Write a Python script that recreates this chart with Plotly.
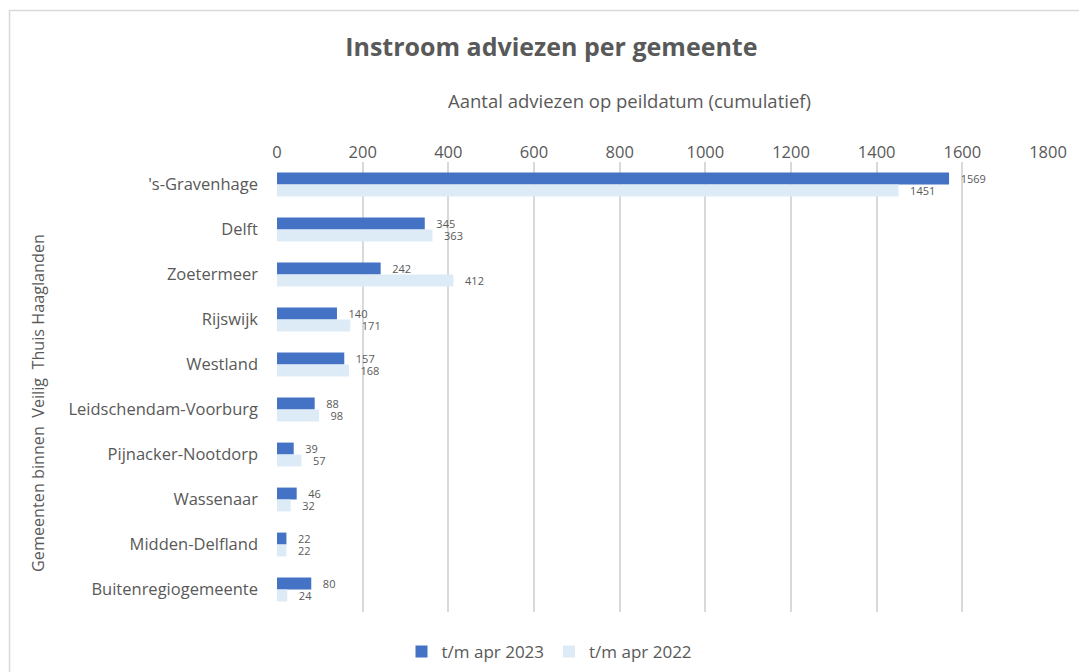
import plotly.graph_objects as go

categories = ["'s-Gravenhage", "Delft", "Zoetermeer", "Rijswijk", "Westland",
              "Leidschendam-Voorburg", "Pijnacker-Nootdorp", "Wassenaar",
              "Midden-Delfland", "Buitenregiogemeente"]
apr2023 = [1569, 345, 242, 140, 157, 88, 39, 46, 22, 80]
apr2022 = [1451, 363, 412, 171, 168, 98, 57, 32, 22, 24]
x_ticks = [0, 200, 400, 600, 800, 1000, 1200, 1400, 1600, 1800]

FONT = "Open Sans"
GREY = "#595959"
PAD = "\u00a0\u00a0\u00a0"

fig = go.Figure()
fig.add_trace(go.Bar(y=categories, x=apr2023, orientation="h", name="t/m apr 2023",
                     marker=dict(color="#4472C4", line=dict(width=0)),
                     texttemplate=PAD + "%{x}", textposition="outside", cliponaxis=False,
                     constraintext="none",
                     textfont=dict(size=11, color=GREY, family=FONT)))
fig.add_trace(go.Bar(y=categories, x=apr2022, orientation="h", name="t/m apr 2022",
                     marker=dict(color="#DDEBF7", line=dict(width=0)),
                     texttemplate=PAD + "%{x}", textposition="outside", cliponaxis=False,
                     constraintext="none",
                     textfont=dict(size=11, color=GREY, family=FONT)))

fig.update_layout(
    width=1079, height=672,
    paper_bgcolor="white", plot_bgcolor="white",
    margin=dict(l=277, r=28, t=162, b=60),
    barmode="group", bargap=0.47, bargroupgap=0,
    font=dict(family=FONT, color=GREY),
    title=dict(text="<b>Instroom adviezen per gemeente</b>", x=0.511, xanchor="center",
               y=1 - 47 / 672, yanchor="middle",
               font=dict(size=25, color="#595959", family=FONT)),
    xaxis=dict(side="top", range=[0, 1800], tickvals=x_ticks, showgrid=True,
               gridcolor="#D9D9D9", gridwidth=2, zeroline=False,
               tickfont=dict(size=16.5, color=GREY), showline=False, ticks=""),
    yaxis=dict(autorange="reversed", tickfont=dict(size=16.5, color=GREY),
               showgrid=False, zeroline=False, showline=False, ticks="",
               ticklabelstandoff=18),
    legend=dict(orientation="h", x=0.5 + 10 / 1079, xanchor="center", xref="container",
                y=20 / 672, yanchor="middle", yref="container",
                font=dict(size=17, color=GREY), traceorder="normal"),
    showlegend=True,
)

fig.add_annotation(text="Aantal adviezen op peildatum (cumulatief)", xref="paper", yref="paper",
                   x=(631 - 277) / 774, y=(672 - 100 - 60) / 450, xanchor="center",
                   yanchor="middle", showarrow=False, font=dict(size=18.5, color=GREY))
fig.add_annotation(text="Gemeenten binnen  Veilig  Thuis Haaglanden", xref="paper", yref="paper",
                   x=(37 - 277) / 774, y=(672 - 403 - 60) / 450, xanchor="center",
                   yanchor="middle", textangle=-90, showarrow=False,
                   font=dict(size=16.2, color=GREY))
fig.add_shape(type="rect", xref="paper", yref="paper",
              x0=(8.5 - 277) / 774, x1=(1090 - 277) / 774,
              y0=(-20 - 60) / 450, y1=(672 - 10.5 - 60) / 450,
              line=dict(color="#D9D9D9", width=1.5), fillcolor="rgba(0,0,0,0)", layer="below")

fig.write_html("out.html", config={"displayModeBar": False},
               post_script="document.body.style.margin='0';document.body.style.overflow='hidden';")
